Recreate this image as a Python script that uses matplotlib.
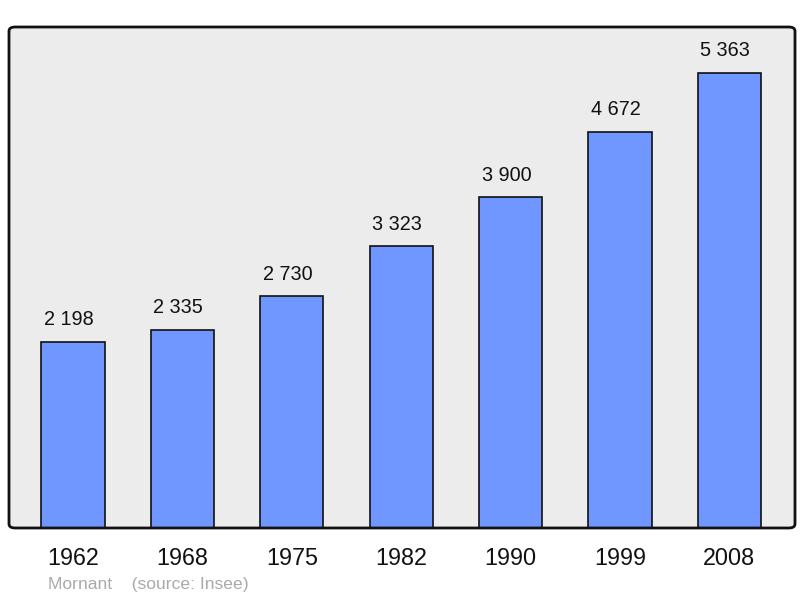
import matplotlib.pyplot as plt
from matplotlib.patches import FancyBboxPatch

years = ['1962', '1968', '1975', '1982', '1990', '1999', '2008']
population = [2198, 2335, 2730, 3323, 3900, 4672, 5363]
value_labels = ['2 198', '2 335', '2 730', '3 323', '3 900', '4 672', '5 363']

plt.rcParams['font.family'] = ['Liberation Sans', 'DejaVu Sans']

fig = plt.figure(figsize=(8, 5.98), dpi=100)
ax = fig.add_axes([9 / 800, 70 / 598, 786 / 800, 501 / 598])
ax.set_facecolor('#ececec')

x = list(range(len(years)))
ax.bar(x, population, width=0.577, color='#7097ff', edgecolor='#111111', linewidth=1.2, zorder=2)

for xi, v, lab in zip(x, population, value_labels):
    ax.annotate(lab, (xi, v), xytext=(-3, 9), textcoords='offset points',
                ha='center', va='bottom', fontsize=14.3, color='#111111')

ax.set_xlim(-0.585, 6.6)
ax.set_ylim(0, 5905)
ax.set_xticks(x)
ax.set_xticklabels(years, fontsize=16.8, color='#111111')
ax.tick_params(axis='x', length=0, pad=14)
ax.set_yticks([])

for s in ax.spines.values():
    s.set_visible(False)
frame = FancyBboxPatch((0, 0), 1, 1, boxstyle='round,pad=0,rounding_size=0.008',
                       transform=ax.transAxes, facecolor='none', edgecolor='#111111',
                       linewidth=2, clip_on=False, zorder=5)
ax.add_patch(frame)

fig.text(48 / 800, 1 - 584 / 598, 'Mornant    (source: Insee)', fontsize=12.6,
         color='#aaaaaa', ha='left', va='center')

plt.savefig('out.png', dpi=100)
plt.close()
